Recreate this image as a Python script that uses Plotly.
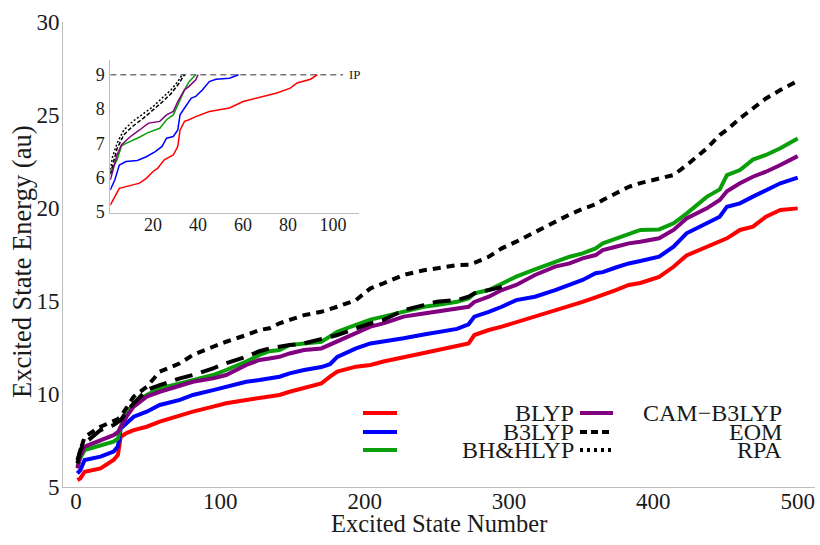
import plotly.graph_objects as go

# ---------------- main panel data: excitation energies vs. state index ----------------
states = [1, 3, 6, 17, 26, 29, 31, 35, 40, 49, 58, 72, 81, 95, 104, 118, 127, 134, 141, 148,
          158, 170, 176, 181, 194, 204, 213, 227, 241, 250, 264, 272, 276, 286, 295, 305, 318,
          332, 342, 351, 360, 365, 374, 383, 391, 404, 414, 423, 437, 446, 451, 460, 469, 478,
          488, 500]

blyp = [5.38, 5.46, 5.82, 6.0, 6.45, 6.72, 7.7, 7.9, 8.06, 8.24, 8.51, 8.87, 9.05, 9.32, 9.5,
        9.68, 9.77, 9.85, 9.95, 10.12, 10.3, 10.57, 10.93, 11.2, 11.47, 11.56, 11.75, 12.0,
        12.2, 12.35, 12.6, 12.72, 13.17, 13.44, 13.62, 13.85, 14.16, 14.51, 14.69, 14.95, 15.2,
        15.32, 15.59, 15.86, 15.97, 16.3, 16.84, 17.45, 17.92, 18.2, 18.37, 18.82, 19.0, 19.53,
        19.89, 19.98]

b3lyp = [5.73, 5.91, 6.45, 6.63, 6.9, 7.17, 8.15, 8.42, 8.78, 9.05, 9.41, 9.68, 9.95, 10.21,
         10.39, 10.66, 10.75, 10.84, 10.93, 11.11, 11.29, 11.45, 11.6, 12.0, 12.45, 12.72, 12.85,
         13.0, 13.2, 13.3, 13.5, 13.75, 14.16, 14.42, 14.69, 15.05, 15.23, 15.59, 15.86, 16.13,
         16.49, 16.55, 16.8, 17.02, 17.15, 17.38, 17.92, 18.64, 19.18, 19.53, 20.07, 20.25,
         20.61, 20.97, 21.33, 21.63]

bhhlyp = [6.09, 6.55, 6.99, 7.26, 7.44, 7.6, 8.24, 8.87, 9.5, 9.95, 10.3, 10.57, 10.75, 11.02,
          11.29, 11.74, 12.1, 12.3, 12.36, 12.63, 12.72, 12.81, 13.1, 13.35, 13.71, 14.0, 14.16,
          14.42, 14.69, 14.78, 14.96, 15.14, 15.41, 15.59, 15.95, 16.31, 16.7, 17.11, 17.38,
          17.56, 17.83, 18.1, 18.36, 18.63, 18.82, 18.85, 19.18, 19.7, 20.6, 21.0, 21.77, 22.04,
          22.6, 22.85, 23.21, 23.74]

cam_b3lyp = [6.0, 6.7, 7.17, 7.53, 7.79, 7.95, 8.24, 8.78, 9.32, 9.86, 10.12, 10.48, 10.66,
             10.84, 11.02, 11.56, 11.83, 11.91, 12.0, 12.18, 12.36, 12.45, 12.65, 12.81, 13.26,
             13.62, 13.8, 14.16, 14.33, 14.45, 14.6, 14.69, 14.95, 15.23, 15.59, 15.86, 16.4,
             16.85, 17.02, 17.29, 17.47, 17.74, 17.92, 18.1, 18.19, 18.37, 18.82, 19.44, 19.98,
             20.43, 20.9, 21.33, 21.68, 21.95, 22.31, 22.79]

# EOM stops after ~300 states
eom_states = states[:35]
eom = [6.27, 7.0, 7.35, 8.06, 8.33, 8.5, 8.6, 9.05, 9.5, 10.21, 10.48, 10.84, 11.02, 11.38,
       11.65, 12.0, 12.3, 12.45, 12.55, 12.63, 12.72, 12.95, 13.05, 13.17, 13.53, 13.8, 13.98,
       14.51, 14.78, 14.96, 15.05, 15.23, 15.41, 15.59, 15.75]

rpa = [6.45, 7.0, 7.7, 8.24, 8.51, 8.65, 8.78, 9.3, 9.86, 10.39, 11.2, 11.65, 12.1, 12.54,
       12.81, 13.17, 13.44, 13.53, 13.8, 13.98, 14.24, 14.42, 14.55, 14.69, 15.05, 15.68,
       15.95, 16.4, 16.65, 16.75, 16.93, 16.95, 17.05, 17.38, 17.83, 18.19, 18.72, 19.3, 19.65,
       19.95, 20.2, 20.43, 20.79, 21.14, 21.34, 21.6, 21.77, 22.3, 23.2, 23.92, 24.2, 24.82,
       25.36, 25.89, 26.34, 26.84]

# ---------------- inset data: low-lying states up to the ionisation potential ----------------
ip_energy = 9.0
ip_extent = [1, 104.5]

inset_blyp_states = [1, 3, 5, 11, 14, 17, 20, 22, 25, 29, 31, 32, 34, 36, 39, 45, 54, 60, 69,
                     75, 81, 84, 90, 93]
inset_blyp = [5.2, 5.45, 5.69, 5.79, 5.84, 5.98, 6.18, 6.27, 6.52, 6.66, 6.91, 7.39, 7.64, 7.69,
              7.78, 7.93, 8.03, 8.22, 8.37, 8.47, 8.61, 8.76, 8.87, 9.0]

inset_b3lyp_states = [1, 3, 5, 8, 13, 17, 21, 24, 26, 29, 31, 32, 34, 37, 39, 42, 45, 48, 54, 58]
inset_b3lyp = [5.64, 5.93, 6.37, 6.47, 6.5, 6.61, 6.76, 6.91, 7.15, 7.2, 7.39, 7.83, 8.03, 8.32,
               8.37, 8.56, 8.8, 8.87, 8.9, 9.0]

inset_bhhlyp_states = [1, 4, 6, 8, 13, 18, 23, 26, 29, 30, 32, 34, 36, 39]
inset_bhhlyp = [6.13, 6.52, 6.93, 7.0, 7.15, 7.32, 7.44, 7.69, 7.83, 7.98, 8.27, 8.56, 8.8, 9.0]

inset_cam_states = [1, 4, 6, 10, 14, 18, 23, 26, 29, 31, 34, 36, 39, 40]
inset_cam = [5.93, 6.66, 6.96, 7.2, 7.39, 7.59, 7.64, 7.83, 7.93, 8.22, 8.56, 8.66, 8.85, 9.0]

inset_eom_states = [1, 4, 7, 11, 16, 20, 24, 28, 31, 34]
inset_eom = [6.1, 6.85, 7.25, 7.5, 7.75, 7.97, 8.2, 8.45, 8.7, 9.0]

inset_rpa_states = [1, 2, 4, 7, 11, 16, 20, 24, 28, 31, 33]
inset_rpa = [6.23, 6.61, 7.0, 7.39, 7.64, 7.88, 8.07, 8.32, 8.56, 8.8, 9.0]

x_ticks = [0, 100, 200, 300, 400, 500]
y_ticks = [5, 10, 15, 20, 25, 30]
inset_x_ticks = [20, 40, 60, 80, 100]
inset_y_ticks = [5, 6, 7, 8, 9]

# ---------------- styling ----------------
FONT = "Liberation Serif"
TEXT = "#1a1a1a"
AXIS = "#bdbdbd"
RED, BLUE, GREEN, PURPLE, BLACK = "#ff0000", "#0000ff", "#0a9f0a", "#800080", "#000000"

series = [
    ("BLYP", states, blyp, RED, None),
    ("B3LYP", states, b3lyp, BLUE, None),
    ("BH&HLYP", states, bhhlyp, GREEN, None),
    ("CAM\u2212B3LYP", states, cam_b3lyp, PURPLE, None),
    ("EOM", eom_states, eom, BLACK, "18px,9px"),
    ("RPA", states, rpa, BLACK, "8px,6px"),
]
inset_series = [
    (inset_blyp_states, inset_blyp, RED, None),
    (inset_b3lyp_states, inset_b3lyp, BLUE, None),
    (inset_bhhlyp_states, inset_bhhlyp, GREEN, None),
    (inset_cam_states, inset_cam, PURPLE, None),
    (inset_eom_states, inset_eom, BLACK, "4px,2px"),
    (inset_rpa_states, inset_rpa, BLACK, "2px,2px"),
]

fig = go.Figure()

for name, xs, ys, color, dash in series:
    fig.add_trace(go.Scatter(
        x=xs, y=ys, mode="lines", name=name, showlegend=False,
        line=dict(color=color, width=4, dash=dash or "solid"),
        xaxis="x", yaxis="y"))

fig.add_trace(go.Scatter(
    x=ip_extent, y=[ip_energy, ip_energy], mode="lines", showlegend=False,
    line=dict(color="#777777", width=1.5, dash="6px,4px"), xaxis="x2", yaxis="y2"))

for xs, ys, color, dash in inset_series:
    fig.add_trace(go.Scatter(
        x=xs, y=ys, mode="lines", showlegend=False,
        line=dict(color=color, width=1.5, dash=dash or "solid"),
        xaxis="x2", yaxis="y2"))

# ---------------- geometry (pixels -> paper) ----------------
W, H = 820, 545
L, R, T, B = 63, 5, 22, 58
PW, PH = W - L - R, H - T - B


def px(xp):
    return (xp - L) / PW


def py(yp):
    return (H - B - yp) / PH


axis_common = dict(showgrid=False, zeroline=False, showline=True, linecolor=AXIS, linewidth=1,
                   ticks="", ticklen=0, tickfont=dict(family=FONT, size=23, color=TEXT))
inset_common = dict(showgrid=False, zeroline=False, showline=True, linecolor=AXIS, linewidth=1,
                    ticks="", ticklen=0, tickfont=dict(family=FONT, size=18, color=TEXT))

fig.update_layout(
    width=W, height=H,
    margin=dict(l=L, r=R, t=T, b=B),
    paper_bgcolor="white", plot_bgcolor="white",
    font=dict(family=FONT, color=TEXT),
    xaxis=dict(range=[-9, 512], tickvals=x_ticks, ticklabelstandoff=-7, **axis_common),
    yaxis=dict(range=[5, 30], tickvals=y_ticks, ticklabelstandoff=-2, **axis_common),
    xaxis2=dict(domain=[px(110.3), px(358.9)], anchor="y2", range=[1, 111.5],
                tickvals=inset_x_ticks, ticklabelstandoff=-5, **inset_common),
    yaxis2=dict(domain=[py(213), py(60)], anchor="x2", range=[4.97, 9.43],
                tickvals=inset_y_ticks, ticklabelstandoff=1, **inset_common),
)

annotations = [
    dict(text="Excited State Number", xref="paper", yref="paper", x=px(439), y=py(523),
         showarrow=False, font=dict(family=FONT, size=24.5, color=TEXT),
         xanchor="center", yanchor="middle"),
    dict(text="Excited State Energy (au)", xref="paper", yref="paper", x=px(22), y=py(262),
         showarrow=False, textangle=-90, font=dict(family=FONT, size=26.5, color=TEXT),
         xanchor="center", yanchor="middle"),
    dict(text="IP", xref="x2", yref="y2", x=106, y=ip_energy, showarrow=False,
         font=dict(family=FONT, size=13, color=TEXT), xanchor="left", yanchor="middle"),
]

# ---------------- two-column key ----------------
shapes = []
rows = [413, 432, 450]
left_key = [("BLYP", RED, "solid"), ("B3LYP", BLUE, "solid"), ("BH&HLYP", GREEN, "solid")]
right_key = [("CAM\u2212B3LYP", PURPLE, "solid"), ("EOM", BLACK, "7px,4px"),
             ("RPA", BLACK, "3px,4px")]
for yrow, (lab, col, dsh) in zip(rows, left_key):
    shapes.append(dict(type="line", xref="paper", yref="paper", x0=px(363), x1=px(397),
                       y0=py(yrow), y1=py(yrow), line=dict(color=col, width=4, dash=dsh)))
    annotations.append(dict(text=lab, xref="paper", yref="paper", x=px(576), y=py(yrow),
                            showarrow=False, xanchor="right", yanchor="middle",
                            font=dict(family=FONT, size=24, color=TEXT)))
for yrow, (lab, col, dsh) in zip(rows, right_key):
    shapes.append(dict(type="line", xref="paper", yref="paper", x0=px(580), x1=px(613),
                       y0=py(yrow), y1=py(yrow), line=dict(color=col, width=4, dash=dsh)))
    annotations.append(dict(text=lab, xref="paper", yref="paper", x=px(784), y=py(yrow),
                            showarrow=False, xanchor="right", yanchor="middle",
                            font=dict(family=FONT, size=24, color=TEXT)))

fig.update_layout(annotations=annotations, shapes=shapes)

fig.write_html("out.html")
